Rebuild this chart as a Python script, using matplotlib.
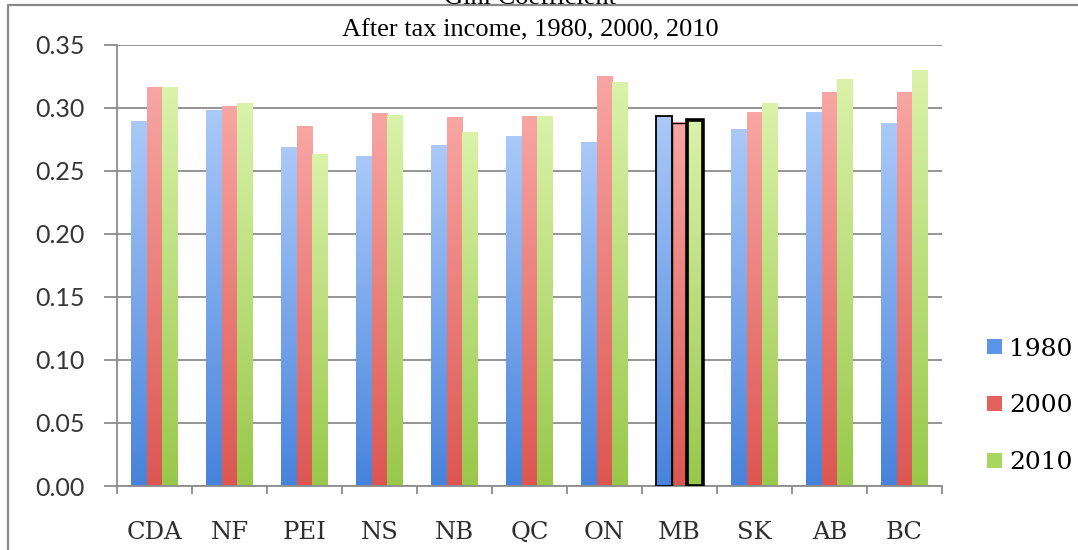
import numpy as np
import matplotlib.pyplot as plt
from matplotlib.colors import LinearSegmentedColormap
from matplotlib.patches import Patch
from matplotlib.lines import Line2D

# Gini coefficient, after tax income, by province
provinces = ['CDA', 'NF', 'PEI', 'NS', 'NB', 'QC', 'ON', 'MB', 'SK', 'AB', 'BC']
years = ['1980', '2000', '2010']
gini_1980 = [0.289, 0.298, 0.268, 0.261, 0.270, 0.277, 0.272, 0.293, 0.283, 0.296, 0.287]
gini_2000 = [0.316, 0.301, 0.285, 0.295, 0.292, 0.293, 0.325, 0.288, 0.296, 0.312, 0.312]
gini_2010 = [0.316, 0.303, 0.263, 0.294, 0.280, 0.293, 0.320, 0.290, 0.303, 0.322, 0.329]
series = [gini_1980, gini_2000, gini_2010]

# bar gradients: bottom -> top
bottom_cols = ['#4783dc', '#dc5651', '#98c84a']
top_cols = ['#aac9f8', '#f8a6a3', '#dbf2aa']
legend_cols = ['#5b94e8', '#e4625c', '#a9d65e']
outline_w = [1.3, 1.0, 2.6]  # outline on the MB bars

grid_col = '#8c8c8c'
serif = ['DejaVu Serif']

fig = plt.figure(figsize=(10.78, 5.5), dpi=100)
ax = fig.add_axes([117 / 1078, 64 / 550, 825 / 1078, 441.5 / 550])

x = np.arange(len(provinces))
w = 0.21
grad = np.linspace(0, 1, 256).reshape(-1, 1)
mb = provinces.index('MB')
for k, vals in enumerate(series):
    bars = ax.bar(x + (k - 1) * w, vals, w, facecolor='none', edgecolor='none', zorder=3)
    cmap = LinearSegmentedColormap.from_list('grad%d' % k, [bottom_cols[k], top_cols[k]])
    for b in bars:
        ax.imshow(grad, cmap=cmap, origin='lower', aspect='auto', interpolation='bilinear',
                  extent=[b.get_x(), b.get_x() + b.get_width(), 0, b.get_height()], zorder=2)
    bars[mb].set_edgecolor('black')
    bars[mb].set_linewidth(outline_w[k])

ax.set_xlim(-0.5, len(provinces) - 0.5)
ax.set_ylim(0, 0.35)

# y axis
yt = np.arange(0, 0.351, 0.05)
ax.set_yticks(yt)
ax.set_yticklabels(['%.2f' % v for v in yt], fontfamily='Lato', fontsize=18, color='#363636')
ax.yaxis.grid(True, color=grid_col, linewidth=1.3)
ax.set_axisbelow(True)
ax.tick_params(axis='y', length=9.4, width=1.3, color=grid_col, pad=14)

# x axis: labels centred, ticks between groups
ax.set_xticks(x)
ax.set_xticklabels(provinces, fontfamily=serif, fontsize=17.5, color='#2e2e2e')
ax.set_xticks(np.arange(-0.5, len(provinces), 1.0), minor=True)
ax.tick_params(axis='x', which='major', length=0, pad=25)
ax.tick_params(axis='x', which='minor', length=6, width=1.3, color=grid_col)

for s in ['top', 'right']:
    ax.spines[s].set_visible(False)
for s in ['left', 'bottom']:
    ax.spines[s].set_color(grid_col)
    ax.spines[s].set_linewidth(1.3)

# legend
handles = [Patch(facecolor=c, edgecolor='none') for c in legend_cols]
fig.legend(handles, years, loc='center left', bbox_to_anchor=(987 / 1078, 1 - 406 / 550),
           frameon=False, prop={'family': serif, 'size': 18},
           borderpad=0, borderaxespad=0,
           handlelength=0.6, handleheight=0.55, handletextpad=0.3, labelspacing=1.35)

# titles
fig.text(530 / 1078, 1 - 4 / 550, 'Gini Coefficient', ha='center', va='baseline',
         fontfamily='Liberation Serif', fontsize=19)
fig.text(530 / 1078, 1 - 36 / 550, 'After tax income, 1980, 2000, 2010', ha='center',
         va='baseline', fontfamily='Liberation Serif', fontsize=19)

# chart frame
fig.add_artist(Line2D([8 / 1078, 8 / 1078, 1], [0, 1 - 4.5 / 550, 1 - 4.5 / 550],
                      transform=fig.transFigure, color='#8a8a8a', linewidth=1.6))

fig.savefig('out.png', dpi=100)
